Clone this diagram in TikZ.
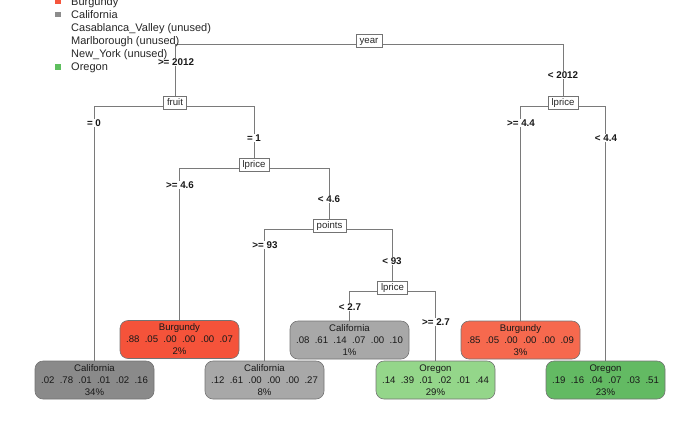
\documentclass[tikz,border=0pt]{standalone}
\usepackage{fontspec}
\setmainfont{Liberation Sans}
\usetikzlibrary{backgrounds}
\definecolor{burgA}{HTML}{F5533A}
\definecolor{burgB}{HTML}{F6694E}
\definecolor{calA}{HTML}{8A8A8A}
\definecolor{calB}{HTML}{A8A8A8}
\definecolor{oreA}{HTML}{94D68A}
\definecolor{oreB}{HTML}{63BA63}
\definecolor{legBurg}{HTML}{F5553C}
\definecolor{legCal}{HTML}{8C8C8C}
\definecolor{legOre}{HTML}{5EBF5E}
\definecolor{linegray}{HTML}{7A7A7A}
\begin{document}
\begin{tikzpicture}[x=1pt,y=-1pt,
  splitbox/.style={draw=black!55, fill=white, line width=0.6pt, font=\fontsize{9.6}{11}\selectfont, text=black!85, inner xsep=3.6pt, inner ysep=2pt, text height=7.2pt, text depth=2pt},
  leafbox/.style={draw=black!55, line width=0.6pt, rounded corners=8pt, minimum width=119pt, minimum height=38pt, align=center, font=\fontsize{9.6}{12}\selectfont, text=black!90, inner sep=1pt},
  cond/.style={fill=white, font=\bfseries\fontsize{9.8}{11}\selectfont, text=black!90, inner sep=1pt},
  conn/.style={draw=linegray, line width=0.7pt},
  legsq/.style={minimum width=6pt, minimum height=5.5pt, inner sep=0pt},
  legtxt/.style={anchor=base west, font=\fontsize{11}{13}\selectfont, text=black!85, inner sep=0pt}
]
\useasboundingbox (0,0) rectangle (700,432);

% split nodes
\node[splitbox] (year) at (369,41) {year};
\node[splitbox] (fruit) at (175,103) {fruit};
\node[splitbox] (lp1) at (254,164.5) {lprice};
\node[splitbox] (points) at (329.5,226) {points};
\node[splitbox] (lp2) at (392.5,287.5) {lprice};
\node[splitbox] (lp3) at (563,103) {lprice};

% leaves
\node[leafbox, fill=calA] (cal34) at (94.5,380) {California\\.02~~.78~~.01~~.01~~.02~~.16\\34\%};
\node[leafbox, fill=burgA] (burg2) at (179.5,339.5) {Burgundy\\.88~~.05~~.00~~.00~~.00~~.07\\2\%};
\node[leafbox, fill=calB] (cal8) at (264.5,380) {California\\.12~~.61~~.00~~.00~~.00~~.27\\8\%};
\node[leafbox, fill=calB] (cal1) at (349.5,340) {California\\.08~~.61~~.14~~.07~~.00~~.10\\1\%};
\node[leafbox, fill=oreA] (or29) at (435.5,380) {Oregon\\.14~~.39~~.01~~.02~~.01~~.44\\29\%};
\node[leafbox, fill=burgB] (burg3) at (520.5,340) {Burgundy\\.85~~.05~~.00~~.00~~.00~~.09\\3\%};
\node[leafbox, fill=oreB] (or23) at (605.5,380) {Oregon\\.19~~.16~~.04~~.07~~.03~~.51\\23\%};

% connectors
\begin{pgfonlayer}{background}
\draw[conn] ([yshift=-3pt]year.center) -| (fruit.north);
\draw[conn] ([yshift=-3pt]year.center) -| (lp3.north);
\draw[conn] ([yshift=-3pt]fruit.center) -| (cal34.north);
\draw[conn] ([yshift=-3pt]fruit.center) -| (lp1.north);
\draw[conn] ([yshift=-3.5pt]lp1.center) -| (burg2.north);
\draw[conn] ([yshift=-3.5pt]lp1.center) -| (points.north);
\draw[conn] ([yshift=-3pt]points.center) -| (cal8.north);
\draw[conn] ([yshift=-3pt]points.center) -| (lp2.north);
\draw[conn] ([yshift=-3.5pt]lp2.center) -| (cal1.north);
\draw[conn] ([yshift=-3.5pt]lp2.center) -| (or29.north);
\draw[conn] ([yshift=-3pt]lp3.center) -| (burg3.north);
\draw[conn] ([yshift=-3pt]lp3.center) -| (or23.north);
\end{pgfonlayer}

% split condition labels
\node[cond] (c1) at (176,62) {>= 2012};
\node[cond] (c2) at (563,75) {< 2012};
\node[cond] (c3) at (94,123) {= 0};
\node[cond] (c4) at (254,138) {= 1};
\node[cond] (c5) at (180,185) {>= 4.6};
\node[cond] (c6) at (329,199) {< 4.6};
\node[cond] (c7) at (265,245) {>= 93};
\node[cond] (c8) at (392,261) {< 93};
\node[cond] (c9) at (350,307) {< 2.7};
\node[cond] (c10) at (436,322) {>= 2.7};
\node[cond] (c11) at (521,123) {>= 4.4};
\node[cond] (c12) at (606,138) {< 4.4};

% legend
\node[legsq, fill=legBurg] (sq1) at (57.5,1.5) {};
\node[legsq, fill=legCal] (sq2) at (57.5,14.5) {};
\node[legsq, fill=legOre] (sq6) at (57.5,67) {};
\node[legtxt] (l1) at (71,5) {Burgundy};
\node[legtxt] (l2) at (71,18) {California};
\node[legtxt] (l3) at (71,31) {Casablanca\_Valley (unused)};
\node[legtxt] (l4) at (71,44) {Marlborough (unused)};
\node[legtxt] (l5) at (71,57) {New\_York (unused)};
\node[legtxt] (l6) at (71,70) {Oregon};
\end{tikzpicture}
\end{document}
